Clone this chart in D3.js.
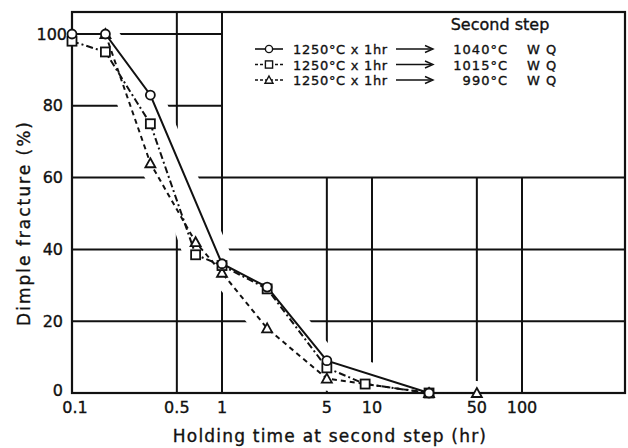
<!DOCTYPE html>
<html>
  <head>
    <meta charset="utf-8" />
    <title>dimple fracture</title>
    <script src="https://cdn.jsdelivr.net/npm/d3@7"></script>
    <style type="text/css">
      body { margin: 0; background: #fff; }
      text { font-family: "DejaVu Sans", sans-serif; fill: #111; stroke: #111; stroke-width: 0.35px; }
    </style>
  </head>
  <body>
    <svg id="chart" width="628" height="448"></svg>
    <script type="text/javascript">
      // holding time (hr) and dimple fracture (%) for each second-step temperature
      var time1040 = [0.1, 0.167, 0.333, 1, 2, 5, 24];
      var frac1040 = [100, 100, 83, 36, 29.5, 9, 0];
      var time1015 = [0.1, 0.167, 0.333, 0.667, 1, 2, 5, 9, 24];
      var frac1015 = [98, 95, 75, 38.5, 35.5, 29, 7, 2.5, 0];
      var time990 = [0.167, 0.333, 0.667, 1, 2, 5, 24, 50];
      var frac990 = [100, 64, 42, 33.5, 18, 4, 0, 0];

      var xTicks = [0.1, 0.5, 1, 5, 10, 50, 100];
      var xTickLabels = ['0.1', '0.5', '1', '5', '10', '50', '100'];
      var yTicks = [0, 20, 40, 60, 80, 100];

      var legendFrom = '1250°C x 1hr';
      var legendTo = ['1040°C', '1015°C', '990°C'];
      var legendTitle = 'Second step';

      var L = 72, T = 12, R = 625, B = 393;

      var x = d3.scaleLog().domain([0.1, 1000]).range([L, L + 600]);
      var y = d3.scaleLinear().domain([0, 100]).range([B, 34]);

      var svg = d3.select('#chart');

      var series = [
        { t: time1040, v: frac1040, dash: null, mark: 'circle' },
        { t: time1015, v: frac1015, dash: '7,3,2,3', mark: 'square' },
        { t: time990, v: frac990, dash: '5,4', mark: 'triangle' },
      ];
      series.forEach(function (s) {
        s.pts = s.t.map(function (d, i) { return [d, s.v[i]]; });
      });

      // grid: legend box sits in the top-right, so some lines are short
      var grid = svg.append('g');
      yTicks.filter(function (d) { return d > 0; }).forEach(function (d) {
        grid.append('line')
          .attr('x1', L).attr('x2', d > 60 ? x(1) : R)
          .attr('y1', y(d)).attr('y2', y(d))
          .attr('stroke', '#111').attr('stroke-width', 2);
      });
      xTicks.filter(function (d) { return d > 0.1; }).forEach(function (d) {
        grid.append('line')
          .attr('x1', x(d)).attr('x2', x(d))
          .attr('y1', d > 1 ? y(60) : T).attr('y2', B)
          .attr('stroke', '#111').attr('stroke-width', 2);
      });

      var line = d3.line()
        .x(function (d) { return x(d[0]); })
        .y(function (d) { return y(d[1]); });

      // white halo so the grid is broken where curves cross it
      var halo = svg.append('g');
      series.forEach(function (s) {
        halo.append('path')
          .attr('d', line(s.pts))
          .attr('fill', 'none').attr('stroke', '#fff')
          .attr('stroke-width', 24).attr('stroke-linejoin', 'round')
          .attr('stroke-linecap', 'round');
      });

      svg.append('rect')
        .attr('x', L).attr('y', T).attr('width', R - L).attr('height', B - T)
        .attr('fill', 'none').attr('stroke', '#111').attr('stroke-width', 2.2);

      series.forEach(function (s) {
        svg.append('path')
          .attr('d', line(s.pts))
          .attr('fill', 'none').attr('stroke', '#111').attr('stroke-width', 2)
          .attr('stroke-dasharray', s.dash);
      });

      function marker(g, kind, cx, cy, sc) {
        sc = sc || 1;
        if (kind === 'circle') {
          g.append('circle').attr('cx', cx).attr('cy', cy).attr('r', 4.5 * sc);
        } else if (kind === 'square') {
          var a = 4.5 * sc;
          g.append('rect').attr('x', cx - a).attr('y', cy - a)
            .attr('width', 2 * a).attr('height', 2 * a);
        } else {
          var h = 5 * sc;
          g.append('path').attr('d', 'M' + cx + ',' + (cy - h) + 'L' + (cx + h) + ',' + (cy + h * 0.8) +
            'L' + (cx - h) + ',' + (cy + h * 0.8) + 'Z');
        }
      }

      var mk = svg.append('g').attr('fill', '#fff').attr('stroke', '#111').attr('stroke-width', 1.8);
      series.slice().reverse().forEach(function (s) {
        s.pts.forEach(function (p) { marker(mk, s.mark, x(p[0]), y(p[1])); });
      });

      // tick labels
      svg.append('g').selectAll('text').data(yTicks).enter().append('text')
        .attr('x', function (d) { return d === 100 ? 67 : 63; })
        .attr('y', function (d) { return y(d) - (d === 0 ? 3 : 0); })
        .attr('dy', '0.35em').attr('text-anchor', 'end')
        .style('font-size', '16px')
        .text(function (d) { return d; });

      svg.append('g').selectAll('text').data(xTicks).enter().append('text')
        .attr('x', function (d) { return x(d) + (d === 0.1 ? 3 : 0); })
        .attr('y', 413).attr('text-anchor', 'middle')
        .style('font-size', '16px')
        .text(function (d, i) { return xTickLabels[i]; });

      svg.append('text').attr('x', 330).attr('y', 442).attr('text-anchor', 'middle')
        .style('font-size', '17px').style('letter-spacing', '1.2px')
        .text('Holding time at second step (hr)');
      svg.append('text')
        .attr('transform', 'translate(30,223) rotate(-90)')
        .attr('text-anchor', 'middle')
        .style('font-size', '17px').style('letter-spacing', '2px')
        .text('Dimple fracture (%)');

      // legend
      var lg = svg.append('g');
      lg.append('text').attr('x', 500).attr('y', 30).attr('text-anchor', 'middle')
        .style('font-size', '16px').text(legendTitle);
      series.forEach(function (s, i) {
        var cy = 49 + i * 15.5;
        lg.append('line').attr('x1', 255).attr('x2', 283).attr('y1', cy).attr('y2', cy)
          .attr('stroke', '#111').attr('stroke-width', 1.6)
          .attr('stroke-dasharray', s.dash ? '3,2' : null);
        var m = lg.append('g').attr('fill', '#fff').attr('stroke', '#111').attr('stroke-width', 1.4);
        marker(m, s.mark, 269, cy, 0.8);
        lg.append('text').attr('x', 293).attr('y', cy + 5)
          .style('font-size', '13px').style('letter-spacing', '0.7px').text(legendFrom);
        lg.append('line').attr('x1', 396).attr('x2', 431).attr('y1', cy).attr('y2', cy)
          .attr('stroke', '#111').attr('stroke-width', 1.4);
        lg.append('path').attr('d', 'M425,' + (cy - 3.5) + 'L433,' + cy + 'L425,' + (cy + 3.5))
          .attr('fill', 'none').attr('stroke', '#111').attr('stroke-width', 1.4);
        lg.append('text').attr('x', 508).attr('y', cy + 5).attr('text-anchor', 'end')
          .style('font-size', '13px').style('letter-spacing', '1px').text(legendTo[i]);
        lg.append('text').attr('x', 527).attr('y', cy + 5)
          .style('font-size', '13px').style('letter-spacing', '1px').text('W Q');
      });
    </script>
  </body>
</html>
